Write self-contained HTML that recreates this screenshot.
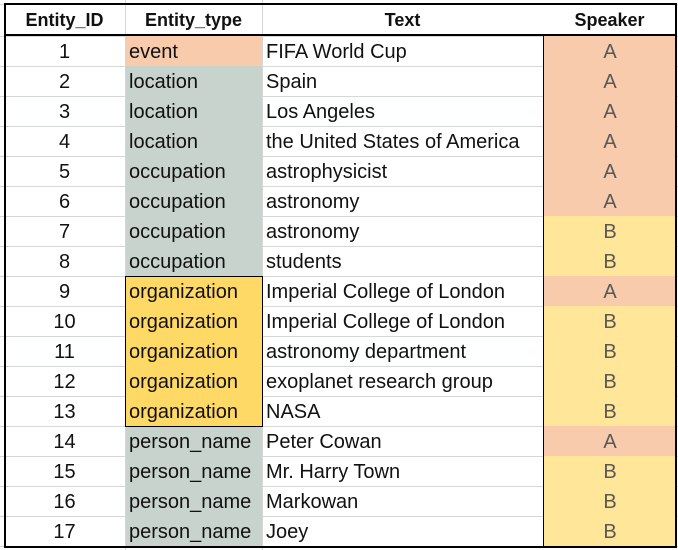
<!DOCTYPE html>
<html><head><meta charset="utf-8"><style>
body{margin:0;width:678px;height:550px;background:#fff;overflow:hidden;font-family:"Liberation Sans",sans-serif;position:relative}
.hl{position:absolute;left:0;width:678px;height:1px;background:#d4d9d7}
.vl{position:absolute;top:0;height:550px;width:1px;background:#d4d9d7}
.c{position:absolute;height:30px;line-height:33px;font-size:20px;color:#111;white-space:nowrap;box-sizing:border-box}
.h{font-weight:bold;text-align:center;font-size:18px;line-height:31px}
</style></head><body>
<div id="t"></div>
<script>
const ids=[1,2,3,4,5,6,7,8,9,10,11,12,13,14,15,16,17];
const types=["event","location","location","location","occupation","occupation","occupation","occupation","organization","organization","organization","organization","organization","person_name","person_name","person_name","person_name"];
const texts=["FIFA World Cup","Spain","Los Angeles","the United States of America","astrophysicist","astronomy","astronomy","students","Imperial College of London","Imperial College of London","astronomy department","exoplanet research group","NASA","Peter Cowan","Mr. Harry Town","Markowan","Joey"];
const speakers=["A","A","A","A","A","A","B","B","A","B","B","B","B","A","B","B","B"];
const typeColor={event:"#f8cbad",location:"#c9d3cd",occupation:"#c9d3cd",organization:"#ffd966",person_name:"#c9d3cd"};
const spColor={A:"#f8cbad",B:"#ffe699"};
const X=[4,125,262,543,676], top0=36, rh=30;
const root=document.body;
function add(cls,style,txt,name){const d=document.createElement('div');d.className=cls;d.style.cssText=style;if(txt!==undefined)d.textContent=txt;


root.appendChild(d);return d;}
for(let i=0;i<=18;i++){add('hl','top:'+(i==0?4:top0+(i-1)*rh)+'px','', 'gridline-h');}
for(let x of [125,262]){add('vl','left:'+x+'px','', 'gridline-v');}
const hdr=["Entity_ID","Entity_type","Text","Speaker"];
hdr.forEach((h,j)=>add('c h','top:5px;left:'+X[j]+'px;width:'+(X[j+1]-X[j])+'px',h,'header-'+h.toLowerCase().replace('_','-')));
ids.forEach((id,i)=>{
 const y=top0+i*rh;
 add('c','top:'+y+'px;left:4px;width:121px;text-align:center',String(id),'entity-id-cell');
 add('c','top:'+y+'px;left:126px;width:136px;padding-left:3px;background:'+typeColor[types[i]],types[i],'entity-type-cell');
 add('c','top:'+y+'px;left:263px;width:280px;padding-left:3px',texts[i],'text-cell');
 add('c','top:'+y+'px;left:544px;width:132px;text-align:center;color:#595959;background:'+spColor[speakers[i]],speakers[i],'speaker-cell');
});
add('c','top:'+(top0+8*rh)+'px;left:125px;width:138px;height:'+(5*rh+1)+'px;border:1.5px solid #000;line-height:normal','', 'organization-group-border');
add('c','top:36px;left:543px;width:1px;height:510px;background:#000','', 'speaker-left-border');
add('c','top:3px;left:4px;width:673px;height:545px;border:2.5px solid #000;line-height:normal','', 'table-outer-border');
add('c','top:34px;left:4px;width:673px;height:2px;background:#000','', 'header-bottom-border');
</script>
</body></html>
